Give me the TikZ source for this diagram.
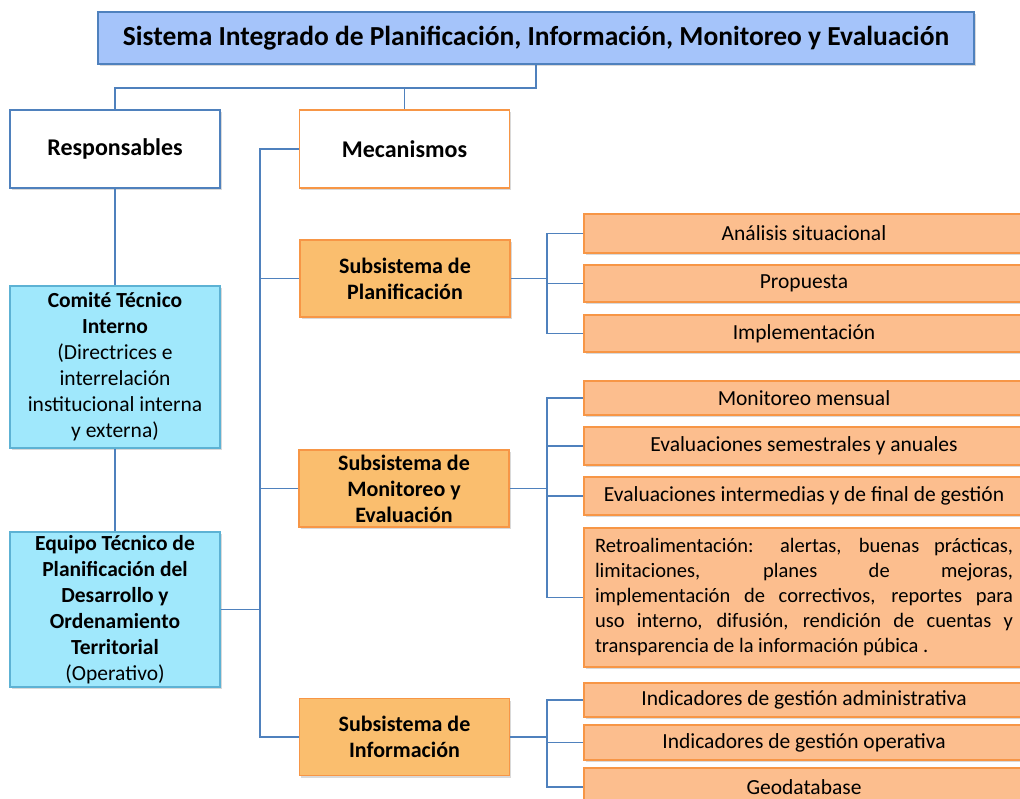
\documentclass[tikz,border=0pt]{standalone}
\usepackage{fontspec}
\setmainfont{Carlito}
\usepackage{tikz}
\usetikzlibrary{shadows}

\definecolor{titlefill}{RGB}{165,196,250}
\definecolor{lineblue}{RGB}{79,129,189}
\definecolor{cyanfill}{RGB}{160,232,252}
\definecolor{cyanline}{RGB}{93,178,212}
\definecolor{subfill}{RGB}{250,190,110}
\definecolor{orangeline}{RGB}{247,150,70}
\definecolor{leaffill}{RGB}{252,190,142}

\newcommand{\boxfont}{\fontsize{21.5}{26}\selectfont}

\tikzset{
  box/.style={draw, line width=1.3pt, inner sep=2pt, align=center,
    drop shadow={shadow xshift=1.5pt, shadow yshift=-2pt, opacity=0.3}},
  titlebox/.style={box, fill=titlefill, draw=lineblue, minimum width=876pt, minimum height=52pt,
    font=\fontsize{27.5}{30}\selectfont\bfseries},
  headbox/.style={box, fill=white, minimum width=210pt, minimum height=78pt,
    font=\fontsize{24}{28}\selectfont\bfseries},
  respbox/.style={box, fill=cyanfill, draw=cyanline, minimum width=210pt, font=\boxfont},
  subbox/.style={box, fill=subfill, draw=orangeline, minimum width=210pt, minimum height=77pt,
    font=\fontsize{22}{26}\selectfont\bfseries},
  leafbox/.style={box, fill=leaffill, draw=orangeline, minimum width=440pt, font=\boxfont},
  conn/.style={draw=lineblue, line width=1.2pt}
}

\begin{document}
\begin{tikzpicture}[x=1pt, y=-1pt]
\path[use as bounding box, clip] (0,0) rectangle (1020,798);

% top
\node[titlebox] (title) at (536,38) {Sistema Integrado de Planificación, Información, Monitoreo y Evaluación};
\node[headbox, draw=lineblue] (resp) at (115,149) {Responsables};
\node[headbox, draw=orangeline] (mec) at (404.5,149) {Mecanismos};

% responsables
\node[respbox, minimum height=162pt] (comite) at (115,367)
  {\textbf{Comité Técnico}\\\textbf{Interno}\\(Directrices e\\interrelación\\institucional interna\\y externa)};
\node[respbox, minimum height=155pt] (equipo) at (115,609.5)
  {\textbf{Equipo Técnico de}\\\textbf{Planificación del}\\\textbf{Desarrollo y}\\\textbf{Ordenamiento}\\\textbf{Territorial}\\(Operativo)};

% subsistemas
\node[subbox] (subPlan) at (405,278.5) {Subsistema de\\Planificación};
\node[subbox] (subMon) at (404,488.5) {Subsistema de\\Monitoreo y\\Evaluación};
\node[subbox] (subInf) at (404.5,737) {Subsistema de\\Información};

% hojas
\node[leafbox, minimum height=39pt] (plan1) at (804,233.5) {Análisis situacional};
\node[leafbox, minimum height=37pt] (plan2) at (804,283.5) {Propuesta};
\node[leafbox, minimum height=37pt] (plan3) at (804,333.5) {Implementación};
\node[leafbox, minimum height=34pt] (mon1) at (804,398) {Monitoreo mensual};
\node[leafbox, minimum height=38pt] (mon2) at (804,446) {Evaluaciones semestrales y anuales};
\node[leafbox, minimum height=38pt] (mon3) at (804,496) {Evaluaciones intermedias y de final de gestión};
\node[leafbox, minimum height=139pt, text width=418pt, align=justify,
  font=\fontsize{20.5}{25}\selectfont] (mon4) at (804,597.5)
  {\hyphenpenalty=10000\relax
   Retroalimentación: alertas, buenas prácticas,\linebreak limitaciones, planes de mejoras,\linebreak implementación de correctivos, reportes para\linebreak uso interno, difusión, rendición de cuentas y\linebreak transparencia de la información púbica .};
\node[leafbox, minimum height=34pt] (inf1) at (804,700) {Indicadores de gestión administrativa};
\node[leafbox, minimum height=35pt] (inf2) at (804,742.5) {Indicadores de gestión operativa};
\node[leafbox, minimum height=38pt] (inf3) at (804,787) {Geodatabase};

% conectores
\coordinate (tjoin) at (536,88);
\coordinate (mbus) at (260,0);
\coordinate (lbus) at (547,0);
\draw[conn] (title.south) -- (tjoin) -| (resp.north);
\draw[conn] (tjoin) -| (mec.north);
\draw[conn] (resp.south) -- (comite.north);
\draw[conn] (comite.south) -- (equipo.north);
\draw[conn] (mec.west) -- (mec.west -| mbus) |- (subInf.west);
\draw[conn] (equipo.east) -- (equipo.east -| mbus);
\foreach \s in {subPlan, subMon}
  \draw[conn] (mbus |- \s.west) -- (\s.west);
\foreach \s/\first/\last in {subPlan/plan1/plan3, subMon/mon1/mon4, subInf/inf1/inf3} {
  \draw[conn] (\s.east) -- (\s.east -| lbus);
  \draw[conn] (\first.west) -- (\first.west -| lbus) -- (\last.west -| lbus) -- (\last.west);
}
\foreach \l in {plan2, mon2, mon3, inf2}
  \draw[conn] (lbus |- \l.west) -- (\l.west);
\end{tikzpicture}
\end{document}
